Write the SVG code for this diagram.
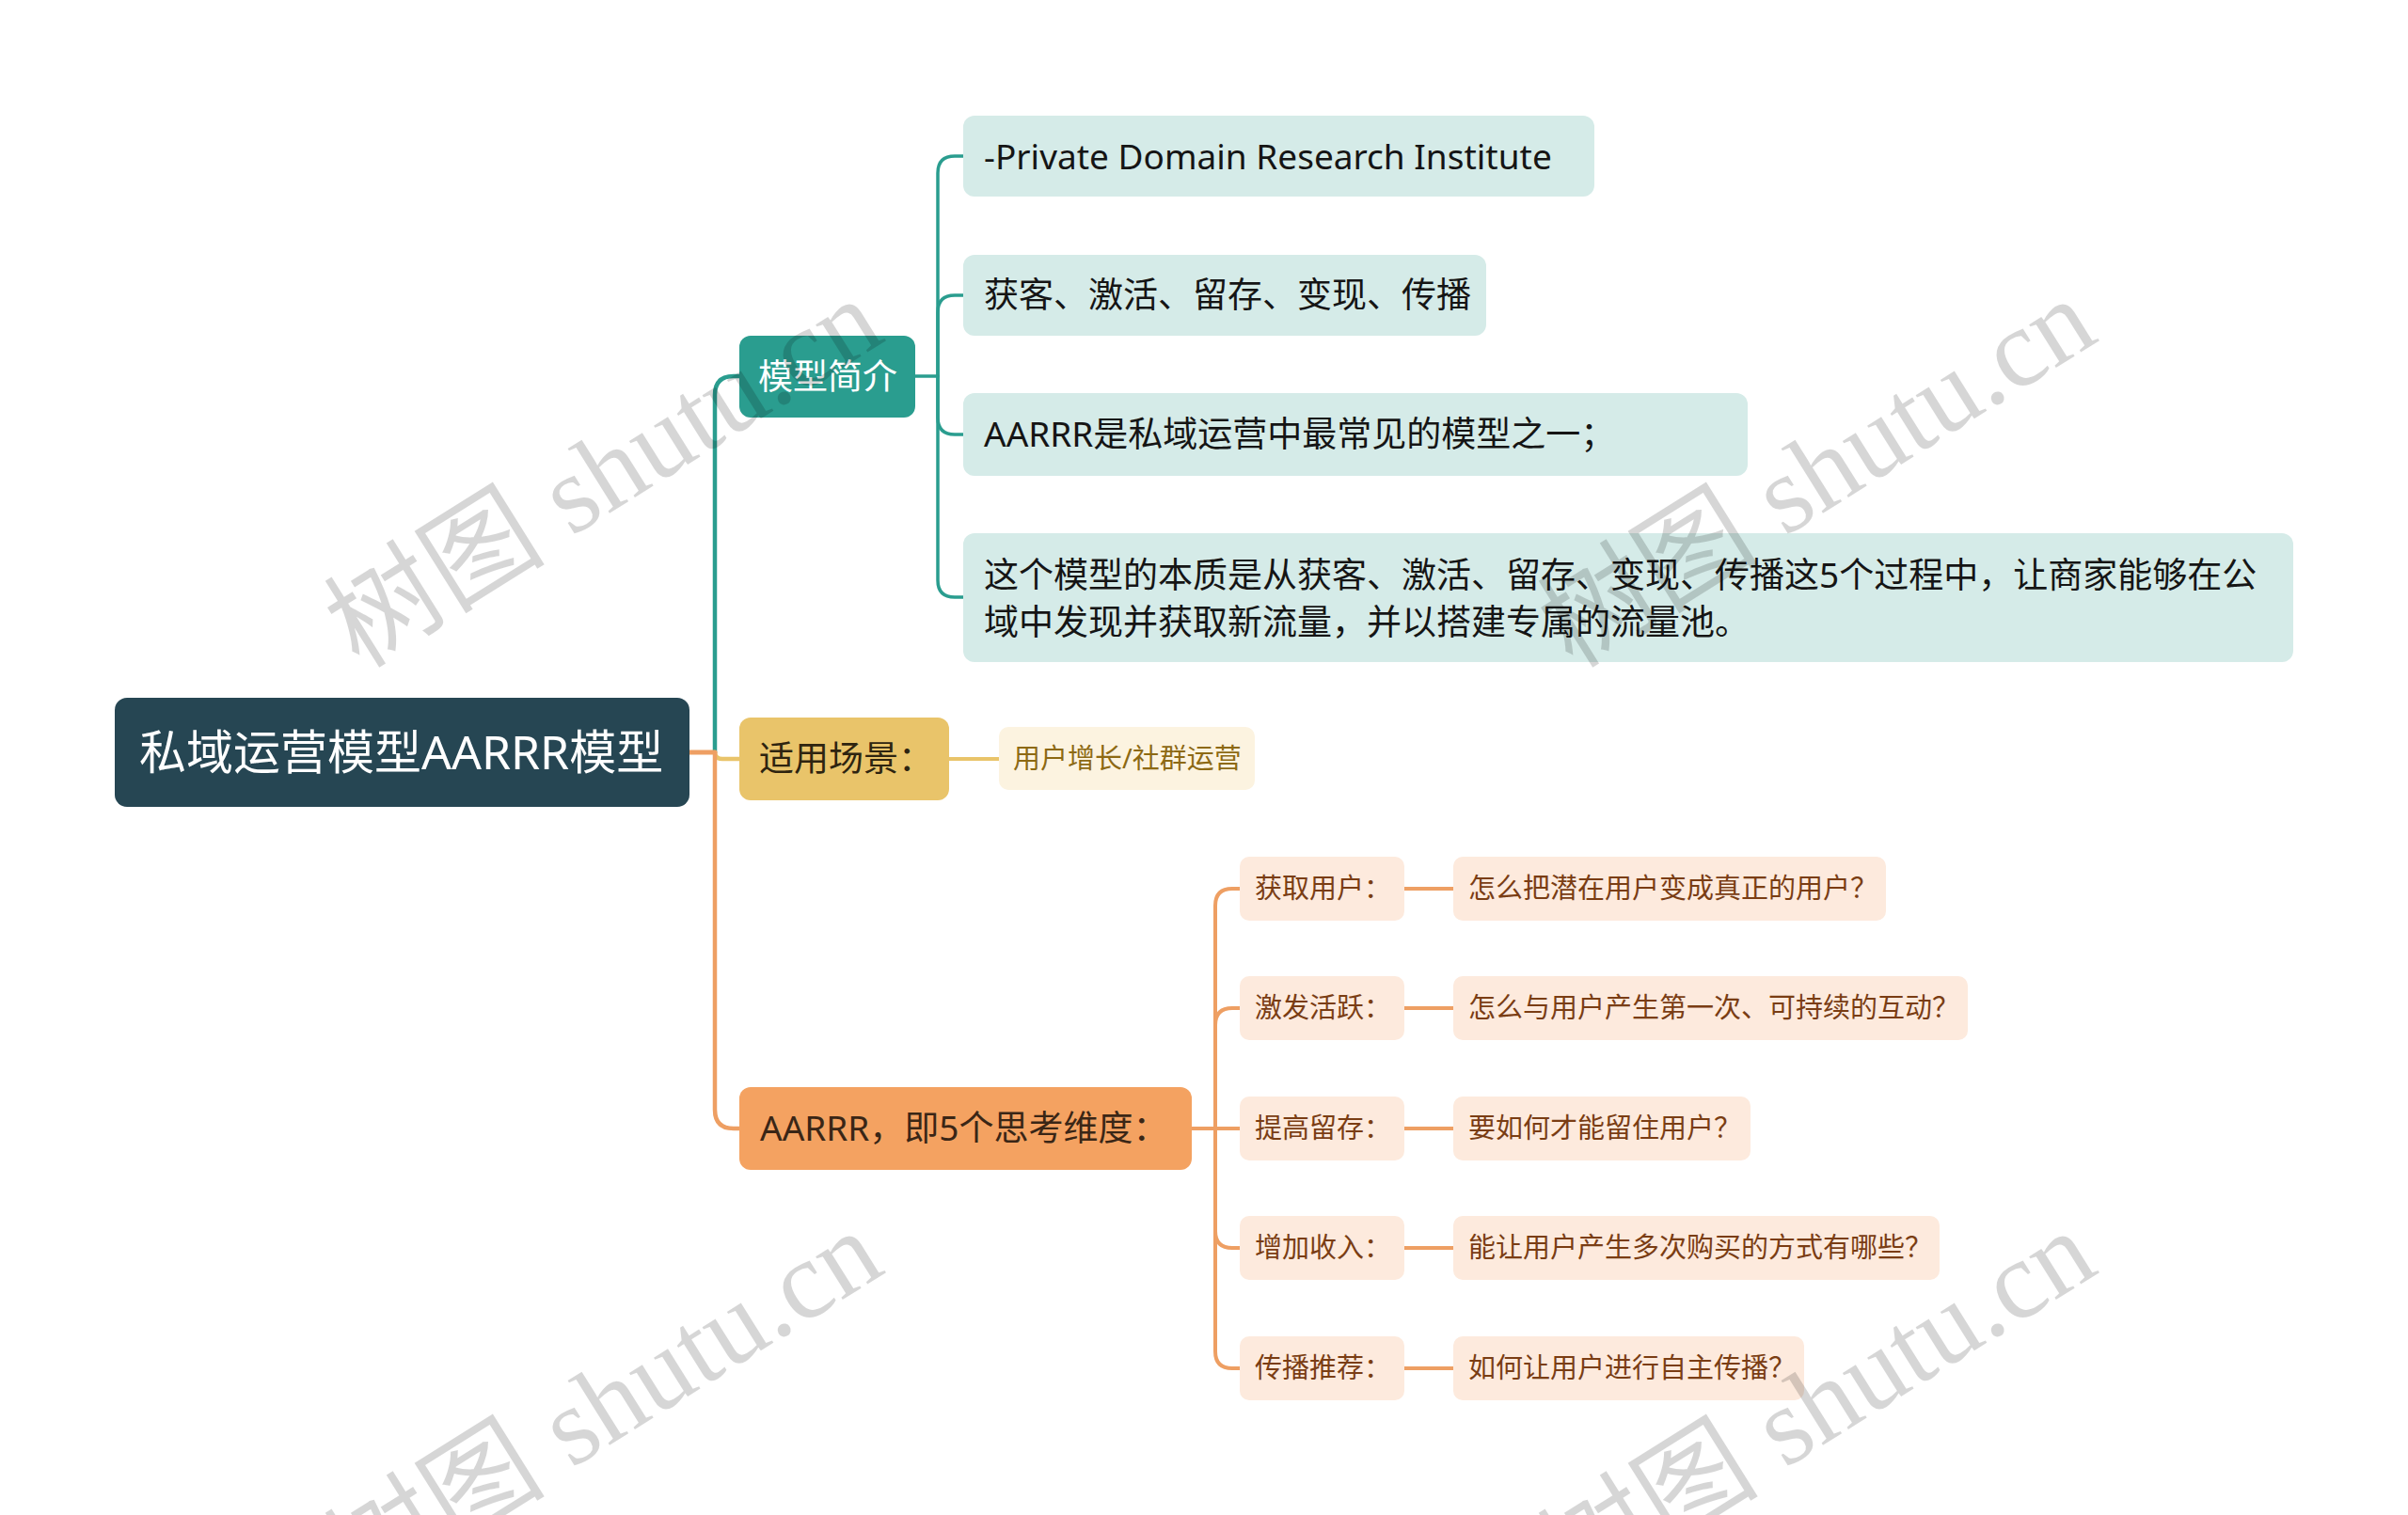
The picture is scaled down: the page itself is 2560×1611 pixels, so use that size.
<svg xmlns="http://www.w3.org/2000/svg" width="2560" height="1611" viewBox="0 0 2560 1611">
  <style>
    .t { font-family: "Noto Sans", "Noto Sans CJK SC", sans-serif; }
    .big { font-size: 50px; fill: #ffffff; }
    .l1 { font-size: 37px; }
    .l2 { font-size: 37px; fill: #151515; }
    .l3 { font-size: 29px; }
    .teal2 { fill: #d5ebe8; }
    .peach { fill: #fdeadd; }
    .sub { fill: #7a3d14; }
    .cteal { fill: none; stroke: #2a9d8f; stroke-linecap: round; }
    .corg { fill: none; stroke: #ee9f63; stroke-linecap: round; }
    .cyel { fill: none; stroke: #e9c46a; stroke-linecap: round; }
    .wm { font-family: "Liberation Serif", "Noto Sans CJK SC", serif; font-size: 118px; fill: #000000; fill-opacity: 0.16; }
  </style>
  <rect width="2560" height="1611" fill="#ffffff"/>

  <g id="connectors">
    <path class="cteal" stroke-width="4.5" d="M760,800 V420 Q760,400 780,400 H786"/>
    <path class="cyel" stroke-width="4.5" d="M760,800 Q760,807 768,807 H786"/>
    <path class="corg" stroke-width="4.5" d="M760,800 V1180 Q760,1200 780,1200 H786"/>
    <path class="corg" stroke-width="5" d="M733,800 H760"/>
    <path class="cteal" stroke-width="3.5" d="M973,400 H997"/>
    <path class="cteal" stroke-width="3.5" d="M997,400 V184 Q997,166 1015,166 H1024"/>
    <path class="cteal" stroke-width="3.5" d="M997,400 V332 Q997,314 1015,314 H1024"/>
    <path class="cteal" stroke-width="3.5" d="M997,400 V444 Q997,462 1015,462 H1024"/>
    <path class="cteal" stroke-width="3.5" d="M997,400 V617 Q997,635 1015,635 H1024"/>
    <path class="cyel" stroke-width="4" d="M1009,807 H1062"/>
    <path class="corg" stroke-width="4" d="M1267,1200 H1292"/>
    <path class="corg" stroke-width="4" d="M1292,1200 V963 Q1292,945 1310,945 H1318"/>
    <path class="corg" stroke-width="4" d="M1292,1200 V1090 Q1292,1072 1310,1072 H1318"/>
    <path class="corg" stroke-width="4" d="M1292,1200 H1318"/>
    <path class="corg" stroke-width="4" d="M1292,1200 V1309 Q1292,1327 1310,1327 H1318"/>
    <path class="corg" stroke-width="4" d="M1292,1200 V1437 Q1292,1455 1310,1455 H1318"/>
    <path class="corg" stroke-width="4" d="M1493,945 H1545"/>
    <path class="corg" stroke-width="4" d="M1493,1072 H1545"/>
    <path class="corg" stroke-width="4" d="M1493,1200 H1545"/>
    <path class="corg" stroke-width="4" d="M1493,1327 H1545"/>
    <path class="corg" stroke-width="4" d="M1493,1455 H1545"/>
  </g>

  <g id="root">
    <rect x="122" y="742" width="611" height="116" rx="13" fill="#264653"/>
    <text class="t big" x="148" y="818">私域运营模型AARRR模型</text>
  </g>

  <g id="n-intro">
    <rect x="786" y="357" width="187" height="87" rx="12" fill="#2a9d8f"/>
    <text class="t l1" x="806" y="414" fill="#ffffff">模型简介</text>
  </g>
  <g id="n-scene">
    <rect x="786" y="763" width="223" height="88" rx="12" fill="#e9c46a"/>
    <text class="t l1" x="807" y="820" fill="#2e2410">适用场景：</text>
  </g>
  <g id="n-aarrr">
    <rect x="786" y="1156" width="481" height="88" rx="12" fill="#f4a261"/>
    <text class="t l1" x="808" y="1213" fill="#3a2616">AARRR，即5个思考维度：</text>
  </g>

  <g id="c-pdri">
    <rect class="teal2" x="1024" y="123" width="671" height="86" rx="12"/>
    <text class="t l2" x="1046" y="180" font-size="38">-Private Domain Research Institute</text>
  </g>
  <g id="c-steps">
    <rect class="teal2" x="1024" y="271" width="556" height="86" rx="12"/>
    <text class="t l2" x="1046" y="327">获客、激活、留存、变现、传播</text>
  </g>
  <g id="c-common">
    <rect class="teal2" x="1024" y="418" width="834" height="88" rx="12"/>
    <text class="t l2" x="1046" y="475">AARRR是私域运营中最常见的模型之一；</text>
  </g>
  <g id="c-essence">
    <rect class="teal2" x="1024" y="567" width="1414" height="137" rx="12"/>
    <text class="t l2" x="1046" y="625">这个模型的本质是从获客、激活、留存、变现、传播这5个过程中，让商家能够在公</text>
    <text class="t l2" x="1046" y="675">域中发现并获取新流量，并以搭建专属的流量池。</text>
  </g>

  <g id="c-scene">
    <rect x="1062" y="773" width="272" height="67" rx="10" fill="#fcf3e0"/>
    <text class="t l3" x="1077" y="817" fill="#8d6913">用户增长/社群运营</text>
  </g>

  <g id="s-acq">
    <rect class="peach" x="1318" y="911" width="175" height="68" rx="10"/>
    <text class="t l3 sub" x="1334" y="955">获取用户：</text>
  </g>
  <g id="a-acq">
    <rect class="peach" x="1545" y="911" width="460" height="68" rx="10"/>
    <text class="t l3 sub" x="1561" y="955">怎么把潜在用户变成真正的用户？</text>
  </g>
  <g id="s-act">
    <rect class="peach" x="1318" y="1038" width="175" height="68" rx="10"/>
    <text class="t l3 sub" x="1334" y="1082">激发活跃：</text>
  </g>
  <g id="a-act">
    <rect class="peach" x="1545" y="1038" width="547" height="68" rx="10"/>
    <text class="t l3 sub" x="1561" y="1082">怎么与用户产生第一次、可持续的互动？</text>
  </g>
  <g id="s-ret">
    <rect class="peach" x="1318" y="1166" width="175" height="68" rx="10"/>
    <text class="t l3 sub" x="1334" y="1210">提高留存：</text>
  </g>
  <g id="a-ret">
    <rect class="peach" x="1545" y="1166" width="316" height="68" rx="10"/>
    <text class="t l3 sub" x="1561" y="1210">要如何才能留住用户？</text>
  </g>
  <g id="s-rev">
    <rect class="peach" x="1318" y="1293" width="175" height="68" rx="10"/>
    <text class="t l3 sub" x="1334" y="1337">增加收入：</text>
  </g>
  <g id="a-rev">
    <rect class="peach" x="1545" y="1293" width="517" height="68" rx="10"/>
    <text class="t l3 sub" x="1561" y="1337">能让用户产生多次购买的方式有哪些？</text>
  </g>
  <g id="s-ref">
    <rect class="peach" x="1318" y="1421" width="175" height="68" rx="10"/>
    <text class="t l3 sub" x="1334" y="1465">传播推荐：</text>
  </g>
  <g id="a-ref">
    <rect class="peach" x="1545" y="1421" width="373" height="68" rx="10"/>
    <text class="t l3 sub" x="1561" y="1465">如何让用户进行自主传播？</text>
  </g>

  <g id="watermarks">
    <text class="wm" transform="translate(382,712) rotate(-32)">树图 shutu.cn</text>
    <text class="wm" transform="translate(1672,712) rotate(-32)">树图 shutu.cn</text>
    <text class="wm" transform="translate(382,1703) rotate(-32)">树图 shutu.cn</text>
    <text class="wm" transform="translate(1672,1703) rotate(-32)">树图 shutu.cn</text>
  </g>
</svg>
